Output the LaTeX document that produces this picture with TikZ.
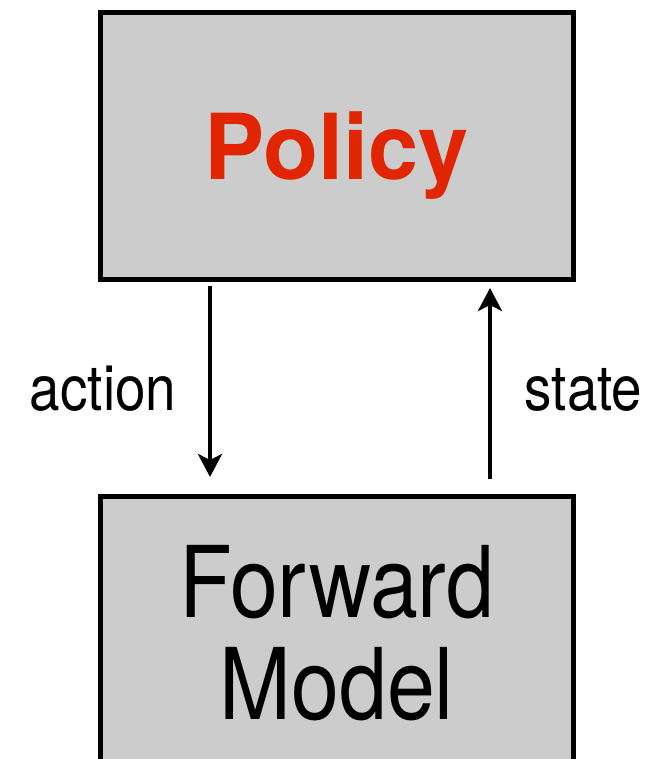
\documentclass[tikz,border=0pt]{standalone}
\usepackage{fontspec}
\setmainfont{TeX Gyre Heros}[FakeStretch=0.87]
\newfontfamily\policyfont{TeX Gyre Heros}[FakeStretch=0.99]
\usetikzlibrary{arrows.meta}
\definecolor{boxgray}{RGB}{204,204,204}
\definecolor{policyred}{RGB}{225,37,0}

\begin{document}
\begin{tikzpicture}[x=1pt,y=-1pt,
  block/.style={draw=black, fill=boxgray, line width=5pt, minimum width=472.5pt, inner sep=0pt},
  flow/.style={line width=4pt, -{Stealth[length=23pt,width=24pt,inset=6pt]}},
  lbl/.style={anchor=base, font=\fontsize{63}{63}\selectfont}]
\useasboundingbox (0,0) rectangle (654,759);
% the two boxes
\node[block, minimum height=266pt, text depth=0pt, text=policyred,
  font=\policyfont\bfseries\fontsize{91}{91}\selectfont] (policy) at (336.75,146) {Policy};
\node[block, minimum height=275pt, align=center,
  font=\fontsize{99}{102}\selectfont] (model) at (336.75,633.5) {Forward\\Model};
% action goes down, state comes back up
\draw[flow] ([xshift=-126.75pt,yshift=-4.5pt]policy.south) -- ([xshift=-126.75pt,yshift=16.5pt]model.north);
\draw[flow] ([xshift=153.25pt,yshift=14.5pt]model.north) -- ([xshift=153.25pt,yshift=-6.5pt]policy.south);
\node[lbl] (action) at (103,410) {action};
\node[lbl] (state) at (583.5,410) {state};
\end{tikzpicture}
\end{document}
